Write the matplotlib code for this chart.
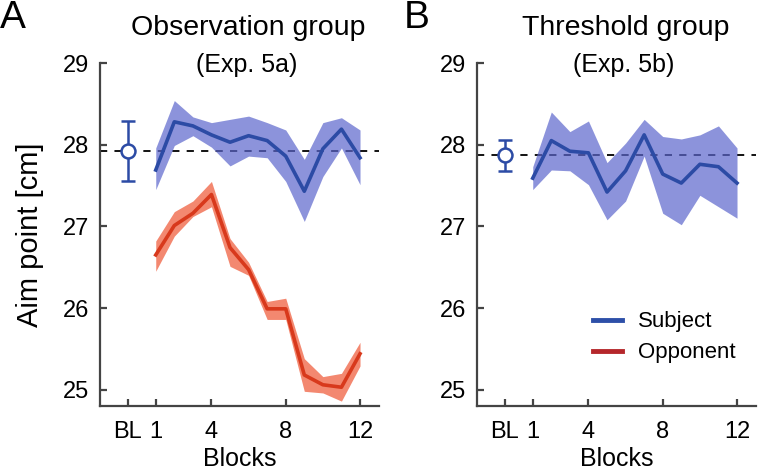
import numpy as np
import matplotlib.pyplot as plt
from matplotlib.lines import Line2D

plt.rcParams['font.family'] = ['Liberation Sans', 'DejaVu Sans']

blocks = np.arange(1, 13)
bl_x = -0.5

# Exp. 5a (observation group)
subj_a = [27.69, 28.28, 28.23, 28.12, 28.03, 28.11, 28.05, 27.86, 27.43, 27.95, 28.19, 27.84]
subj_a_hi = [27.96, 28.54, 28.34, 28.27, 28.31, 28.35, 28.27, 28.18, 27.82, 28.27, 28.33, 28.18]
subj_a_lo = [27.45, 27.99, 28.11, 27.97, 27.74, 27.86, 27.84, 27.55, 27.06, 27.61, 27.96, 27.51]
opp_a = [26.65, 27.01, 27.16, 27.39, 26.74, 26.47, 25.99, 25.99, 25.18, 25.06, 25.03, 25.44]
opp_a_hi = [26.82, 27.18, 27.31, 27.55, 26.85, 26.56, 26.08, 26.12, 25.38, 25.16, 25.20, 25.58]
opp_a_lo = [26.45, 26.88, 27.12, 27.24, 26.51, 26.40, 25.86, 25.86, 24.98, 24.96, 24.86, 25.29]
bl_a, bl_a_err = 27.92, 0.37

# Exp. 5b (threshold group)
subj_b = [27.59, 28.05, 27.92, 27.90, 27.42, 27.68, 28.12, 27.64, 27.53, 27.76, 27.73, 27.53]
subj_b_hi = [27.73, 28.40, 28.16, 28.29, 27.78, 28.02, 28.31, 28.10, 28.07, 28.12, 28.23, 27.96]
subj_b_lo = [27.45, 27.69, 27.68, 27.51, 27.08, 27.31, 27.86, 27.16, 27.02, 27.38, 27.24, 27.10]
bl_b, bl_b_err = 27.87, 0.19

xticks = [bl_x, 1, 4, 8, 12]
xticklabels = ['BL', '1', '4', '8', '12']

blue = '#2c4ba5'
blue_band = '#5c66cc'
red = '#d8391c'
red_band = '#f06040'

fig = plt.figure(figsize=(7.59, 4.72), dpi=100)
axA = fig.add_axes([0.1318, 0.1398, 0.367, 0.7267])
axB = fig.add_axes([0.6285, 0.1398, 0.367, 0.7267])


def style(ax):
    ax.set_xlim(-2, 13)
    ax.set_ylim(24.8, 29)
    ax.set_yticks([25, 26, 27, 28, 29])
    ax.set_xticks(xticks)
    ax.set_xticklabels(xticklabels)
    for s in ['top', 'right']:
        ax.spines[s].set_visible(False)
    for s in ['left', 'bottom']:
        ax.spines[s].set_color('#444444')
        ax.spines[s].set_linewidth(1.6)
    ax.tick_params(direction='in', length=5, width=1.6, color='#444444',
                   labelsize=17)
    ax.tick_params(axis='x', pad=11)
    ax.tick_params(axis='y', pad=8)
    ax.set_xlabel('Blocks', fontsize=18, labelpad=3)


# panel A
axA.axhline(bl_a, color='black', ls=(0, (4, 4)), lw=1.3, zorder=1)
axA.fill_between(blocks, subj_a_lo, subj_a_hi, color=blue_band, alpha=0.7, lw=0, zorder=2)
axA.plot(blocks, subj_a, color=blue, lw=2.6, zorder=3)
axA.fill_between(blocks, opp_a_lo, opp_a_hi, color=red_band, alpha=0.75, lw=0, zorder=2)
axA.plot(blocks, opp_a, color=red, lw=2.6, zorder=3)
axA.errorbar([bl_x], [bl_a], yerr=[bl_a_err], fmt='o', color=blue, mfc='white',
             mec=blue, ms=10, mew=1.8, elinewidth=1.8, capsize=5, capthick=1.8, zorder=4)
style(axA)
axA.set_ylabel('Aim point [cm]', fontsize=21, labelpad=13)

# panel B
axB.axhline(bl_b, color='black', ls=(0, (4, 4)), lw=1.3, zorder=1)
axB.fill_between(blocks, subj_b_lo, subj_b_hi, color=blue_band, alpha=0.7, lw=0, zorder=2)
axB.plot(blocks, subj_b, color=blue, lw=2.6, zorder=3)
axB.errorbar([bl_x], [bl_b], yerr=[bl_b_err], fmt='o', color=blue, mfc='white',
             mec=blue, ms=10, mew=1.8, elinewidth=1.8, capsize=5, capthick=1.8, zorder=4)
style(axB)

handles = [Line2D([], [], color='#2d4fa8', lw=3.5),
           Line2D([], [], color='#b5272b', lw=3.5)]
axB.legend(handles, ['Subject', 'Opponent'], frameon=False, loc='center left',
           bbox_to_anchor=(0.418, 0.20), fontsize=16, handlelength=1.3,
           handletextpad=0.7, labelspacing=0.45, borderpad=0, borderaxespad=0)

# titles and panel letters
fig.text(248 / 759, 1 - 28 / 472, 'Observation group', fontsize=20.5, ha='center', va='center')
fig.text(247 / 759, 1 - 65 / 472, '(Exp. 5a)', fontsize=18, ha='center', va='center')
fig.text(626 / 759, 1 - 28 / 472, 'Threshold group', fontsize=20.5, ha='center', va='center')
fig.text(624 / 759, 1 - 65 / 472, '(Exp. 5b)', fontsize=18, ha='center', va='center')
fig.text(0, 1 - 28 / 472, 'A', fontsize=28, ha='left', va='baseline')
fig.text(404 / 759, 1 - 28 / 472, 'B', fontsize=28, ha='left', va='baseline')

fig.savefig('out.png', dpi=100)
